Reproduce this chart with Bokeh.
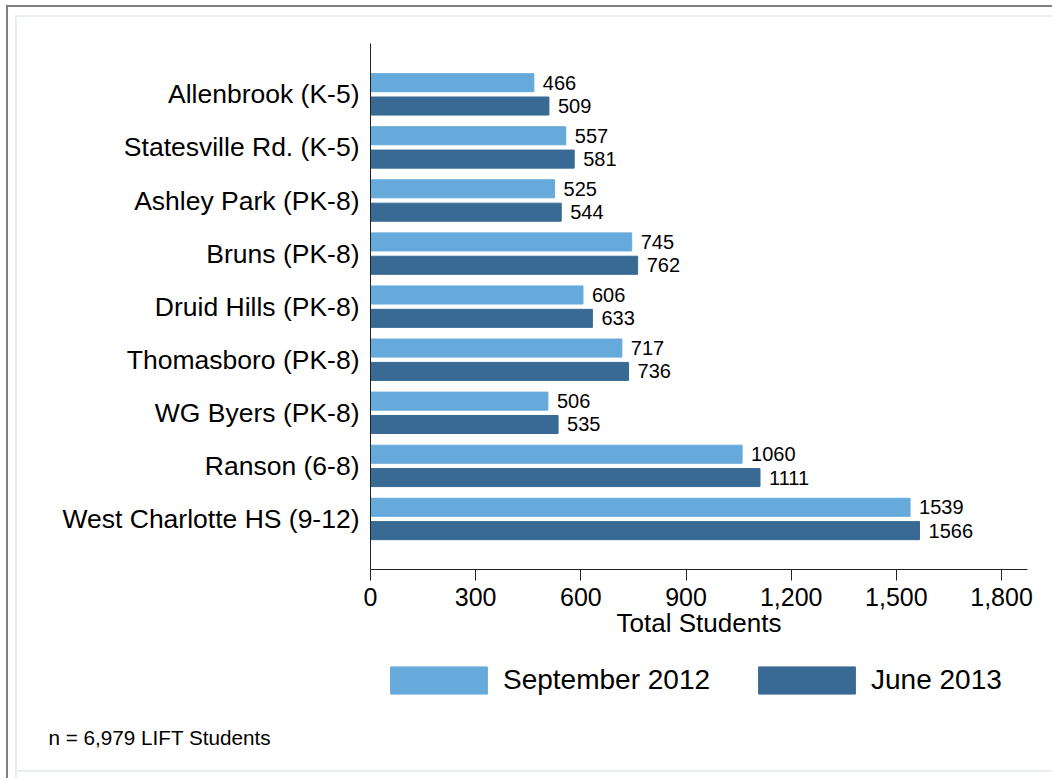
from bokeh.plotting import figure
from bokeh.models import (ColumnDataSource, Legend, LegendItem, Label, Range1d,
                          FixedTicker, NumeralTickFormatter)
from bokeh.transform import dodge
from bokeh.embed import file_html
from bokeh.resources import INLINE
from bokeh.core.properties import value

# ---- data ----
schools = ["Allenbrook (K-5)", "Statesville Rd. (K-5)", "Ashley Park (PK-8)",
           "Bruns (PK-8)", "Druid Hills (PK-8)", "Thomasboro (PK-8)",
           "WG Byers (PK-8)", "Ranson (6-8)", "West Charlotte HS (9-12)"]
sep_2012 = [466, 557, 525, 745, 606, 717, 506, 1060, 1539]
jun_2013 = [509, 581, 544, 762, 633, 736, 535, 1111, 1566]
series_names = ["September 2012", "June 2013"]
x_ticks = [0, 300, 600, 900, 1200, 1500, 1800]
x_title = "Total Students"
note = "n = 6,979 LIFT Students"

LIGHT = "#66aadc"
DARK = "#386a93"
FONT = "Liberation Sans"
INNER = "#e8eef1"

# ---- layout (pixels) ----
W, H = 1052, 778
AX_L, AX_R, AX_T, AX_B = 370, 1027, 43, 569      # plotting area of the chart
X_MAX = 1874                                       # value at right end of x axis
n = len(schools)
Y_LO, Y_HI = -0.952, (n - 1) + 0.958               # category span of the y axis
kx = (AX_R - AX_L) / X_MAX
ky = (AX_B - AX_T) / (Y_HI - Y_LO)
x_range = Range1d(-AX_L / kx, X_MAX + (W - AX_R) / kx)
y_range = Range1d(Y_LO - (H - AX_B) / ky, Y_HI + AX_T / ky)

pos = [n - 1 - i for i in range(n)]
src = ColumnDataSource(dict(
    pos=pos, sep=sep_2012, jun=jun_2013,
    sep_lbl=[str(v) for v in sep_2012], jun_lbl=[str(v) for v in jun_2013],
))

p = figure(width=W, height=H, output_backend="svg", toolbar_location=None,
           x_range=x_range, y_range=y_range,
           min_border_left=0, min_border_right=0, min_border_top=0,
           min_border_bottom=0)
p.border_fill_alpha = 0
p.background_fill_alpha = 0
p.outline_line_color = None
p.xgrid.visible = False
p.ygrid.visible = False
p.styles = {"box-shadow": (
    "inset 6px 5px 0 0 #ffffff, inset 8px 7px 0 0 #7f7f7f, "
    "inset 15px 15px 0 0 #ffffff, inset 17px 17px 0 0 " + INNER + ", "
    "inset 0 -6px 0 0 #ffffff, inset 0 -8px 0 0 " + INNER)}

off = 0.22
h = 0.34
r1 = p.hbar(y=dodge("pos", off), height=h, left=0, right="sep", source=src,
            fill_color=LIGHT, line_color=LIGHT)
r2 = p.hbar(y=dodge("pos", -off), height=h, left=0, right="jun", source=src,
            fill_color=DARK, line_color=DARK)

for col, lbl, o in (("sep", "sep_lbl", off), ("jun", "jun_lbl", -off)):
    p.text(x=col, y=dodge("pos", o), text=lbl, source=src, x_offset=9,
           text_baseline="middle", text_align="left",
           text_font=value(FONT), text_font_size="20px", text_color="black")

# y axis
yax = p.yaxis[0]
yax.fixed_location = 0
yax.bounds = (Y_LO, Y_HI)
yax.ticker = FixedTicker(ticks=pos)
yax.major_label_overrides = {pp: s for pp, s in zip(pos, schools)}
yax.major_tick_out = 0
yax.major_tick_in = 0
yax.minor_tick_out = 0
yax.minor_tick_in = 0
yax.major_label_standoff = 11
yax.major_label_text_font = FONT
yax.major_label_text_font_size = "26.5px"
yax.major_label_text_color = "black"
yax.axis_line_color = "#222222"

# x axis
xax = p.xaxis[0]
xax.fixed_location = Y_LO
xax.bounds = (0, X_MAX)
xax.ticker = FixedTicker(ticks=x_ticks)
xax.formatter = NumeralTickFormatter(format="0,0")
xax.major_tick_out = 11
xax.major_tick_in = 0
xax.minor_tick_out = 0
xax.minor_tick_in = 0
xax.major_tick_line_color = "#222222"
xax.axis_line_color = "#222222"
xax.major_label_standoff = 7
xax.major_label_text_font = FONT
xax.major_label_text_font_size = "25px"
xax.major_label_text_color = "black"
xax.axis_label = x_title
xax.axis_label_standoff = -1
xax.axis_label_text_font = FONT
xax.axis_label_text_font_size = "26px"
xax.axis_label_text_font_style = "normal"
xax.axis_label_text_color = "black"

legend = Legend(items=[LegendItem(label=series_names[0], renderers=[r1]),
                       LegendItem(label=series_names[1], renderers=[r2])],
                orientation="horizontal", location=(368, 71),
                glyph_width=121, glyph_height=34, label_standoff=4, spacing=36,
                label_text_font=FONT, label_text_font_size="28px",
                label_text_color="black",
                border_line_alpha=0, background_fill_alpha=0,
                margin=0, padding=10)
p.add_layout(legend, "center")

note_x = (48 - AX_L) / kx
note_y = Y_LO - (737 - AX_B) / ky
p.add_layout(Label(x=note_x, y=note_y, text=note, text_font=FONT,
                   text_font_size="20.7px", text_color="black",
                   text_baseline="alphabetic", text_align="left"))

open("out.html", "w").write(file_html(p, INLINE))
